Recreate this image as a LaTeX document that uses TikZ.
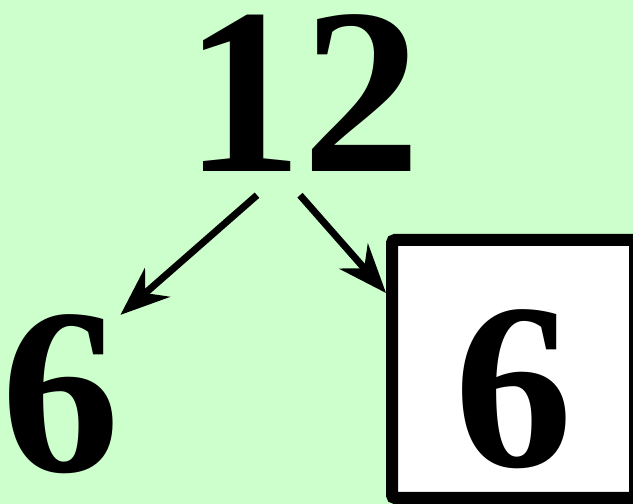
\documentclass[tikz,border=0pt]{standalone}
\usepackage{fontspec}
\setmainfont{Liberation Serif}
\definecolor{bggreen}{RGB}{204,255,204}
\usetikzlibrary{arrows.meta,positioning}

\begin{document}
\begin{tikzpicture}[x=1pt,y=1pt,
  num/.style={font=\fontsize{237}{240}\selectfont\bfseries, inner sep=4pt, anchor=base},
  branch/.style={line width=7pt, -{Stealth[length=49pt,width=38pt,inset=16pt]}}]
  \useasboundingbox (0,0) rectangle (633,504);
  \clip (0,0) rectangle (633,504);
  \fill[bggreen] (0,0) rectangle (633,504);

  % top number
  \node[num] (twelve) at (303,332) {12};

  % factors
  \node[num] (leftsix) at (61,32) {6};
  \node[num, anchor=center, draw=black, fill=white, line width=12pt, rounded corners=3pt,
        minimum width=243pt, minimum height=258pt, text height=196pt, text depth=0pt] (boxsix) at (513.5,135) {6};

  % arrows
  \draw[branch] ([xshift=-46pt,yshift=-19pt]twelve.south) -- ([xshift=-4pt,yshift=-4pt]leftsix.north east);
  \draw[branch] ([xshift=-3pt,yshift=-19pt]twelve.south) -- ([yshift=-59pt]boxsix.north west);
\end{tikzpicture}
\end{document}
